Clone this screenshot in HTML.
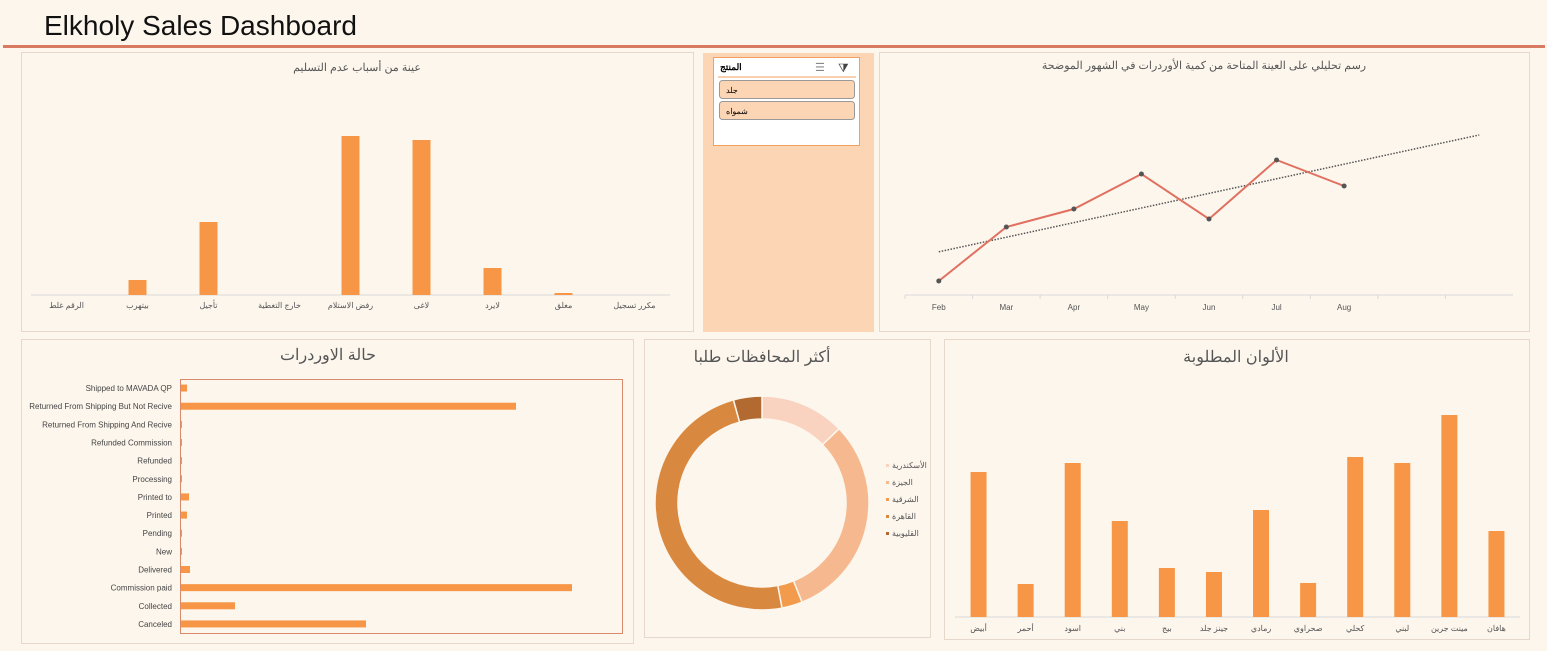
<!DOCTYPE html>
<html><head><meta charset="utf-8">
<style>
html,body{margin:0;padding:0;background:#fdf6ed;width:1547px;height:651px;overflow:hidden}
svg{display:block}
text{font-family:"Liberation Sans","Noto Sans CJK SC",sans-serif}
</style></head>
<body>
<svg id="s" width="1547" height="651" xmlns="http://www.w3.org/2000/svg">
<rect x="0" y="0" width="1547" height="651" fill="#fdf6ed"/>
<text x="44" y="35" font-size="28" fill="#111" textLength="313" lengthAdjust="spacingAndGlyphs">Elkholy Sales Dashboard</text>
<rect x="3" y="45" width="1542" height="3" fill="#d97a63"/>

<rect x="21.5" y="52.5" width="672" height="279" fill="#fdf6ed" stroke="#e8d8cc"/>
<text x="357" y="71" font-size="11" fill="#555" text-anchor="middle">عينة من أسباب عدم التسليم</text>
<g id="reasons"></g>

<rect x="703" y="53" width="171" height="279" fill="#fcd5b4"/>
<rect x="713.5" y="57.5" width="146" height="88" fill="#fff" stroke="#f0a060"/>
<text x="720" y="70" font-size="9" font-weight="bold" fill="#000">المنتج</text>
<line x1="718" y1="77" x2="856" y2="77" stroke="#f0a060" stroke-width="1"/>
<text x="815" y="71" font-size="11" fill="#888">☰</text>
<text x="838" y="72" font-size="12" fill="#444">⧩</text>
<rect x="719.5" y="80.5" width="135" height="18" rx="3" fill="#fcd5b4" stroke="#999"/>
<text x="726" y="93" font-size="8" fill="#000">جلد</text>
<rect x="719.5" y="101.5" width="135" height="18" rx="3" fill="#fcd5b4" stroke="#999"/>
<text x="726" y="114" font-size="8" fill="#000">شمواه</text>

<rect x="879.5" y="52.5" width="650" height="279" fill="#fdf6ed" stroke="#e8d8cc"/>
<text x="1204" y="69" font-size="11" fill="#555" text-anchor="middle">رسم تحليلي على العينة المتاحة من كمية الأوردرات في الشهور الموضحة</text>
<g id="trend"></g>

<rect x="21.5" y="339.5" width="612" height="304" fill="#fdf6ed" stroke="#e8d8cc"/>
<text x="328" y="360" font-size="16" fill="#555" text-anchor="middle">حالة الاوردرات</text>
<rect x="180.5" y="379.5" width="442" height="254" fill="none" stroke="#d98a6a"/>
<g id="status"></g>

<rect x="644.5" y="339.5" width="286" height="298" fill="#fdf6ed" stroke="#e8d8cc"/>
<text x="762" y="362" font-size="16" fill="#555" text-anchor="middle">أكثر المحافظات طلبا</text>
<g id="donut"></g>

<rect x="944.5" y="339.5" width="585" height="300" fill="#fdf6ed" stroke="#e8d8cc"/>
<text x="1236" y="362" font-size="16" fill="#555" text-anchor="middle">الألوان المطلوبة</text>
<g id="colors"></g>
</svg>
<script>
const reasonCats=["الرقم غلط","بيتهرب","تأجيل","خارج التغطية","رفض الاستلام","لاغى","لايرد","مغلق","مكرر تسجيل"];
const reasonVals=[0,15,73,0,159,155,27,2,0];
const months=["Feb","Mar","Apr","May","Jun","Jul","Aug","",""];
const monthVals=[14,68,86,121,76,135,109];
const statusCats=["Shipped to MAVADA QP","Returned From Shipping But Not Recive","Returned From Shipping And Recive","Refunded Commission","Refunded","Processing","Printed to","Printed","Pending","New","Delivered","Commission paid","Collected","Canceled"];
const statusVals=[6,335,1,1,1,1,8,6,1,1,9,391,54,185];
const govCats=["الأسكندرية","الجيزة","الشرقية","القاهرة","القليوبية"];
const govVals=[12.8,31.1,3.1,48.7,4.3];
const govColors=["#f9d3c0","#f6b98f","#f29b4d","#d98840","#b36a30"];
const colorCats=["أبيض","أحمر","اسود","بني","بيج","جينز جلد","رمادي","صحراوي","كحلي","لبني","مينت جرين","هافان"];
const colorVals=[145,33,154,96,49,45,107,34,160,154,202,86];

const NS="http://www.w3.org/2000/svg";
function mk(parent,tag,attrs,txt){const e=document.createElementNS(NS,tag);for(const k in attrs)e.setAttribute(k,attrs[k]);if(txt!==undefined)e.textContent=txt;parent.appendChild(e);return e;}
const BAR="#f79646";

(function(){
 const g=document.getElementById('reasons');const x0=31,x1=670,base=295,n=reasonCats.length,w=(x1-x0)/n;
 let ax=mk(g,'line',{x1:x0,y1:base,x2:x1,y2:base,stroke:"#d9d9d9"});
 
 reasonCats.forEach((c,i)=>{
  const cx=x0+w*(i+0.5);
  let r=mk(g,'rect',{x:cx-9,y:base-reasonVals[i],width:18,height:reasonVals[i],fill:BAR});
  
  let t=mk(g,'text',{x:cx,y:308,'font-size':8,fill:"#555",'text-anchor':"middle"},c);
  
 });
})();

(function(){
 const g=document.getElementById('trend');const x0=905,x1=1513,base=295,n=months.length,w=(x1-x0)/n;
 const X=i=>x0+w*(i+0.5),Y=v=>base-v;
 let ax=mk(g,'line',{x1:x0,y1:base,x2:x1,y2:base,stroke:"#d9d9d9"});
 
 months.forEach((m,i)=>{
  let tk=mk(g,'line',{x1:x0+w*i,y1:base,x2:x0+w*i,y2:base+4,stroke:"#d9d9d9"});
  
  let t=mk(g,'text',{x:X(i),y:310,'font-size':8,fill:"#555",'text-anchor':"middle"},m);
  
 });
 const k=monthVals.length;let mx=(k-1)/2,my=monthVals.reduce((a,b)=>a+b,0)/k,num=0,den=0;
 monthVals.forEach((v,i)=>{num+=(i-mx)*(v-my);den+=(i-mx)*(i-mx);});
 const sl=num/den,ic=my-sl*mx;
 let tr=mk(g,'line',{x1:X(0),y1:Y(ic),x2:X(8),y2:Y(ic+sl*8),stroke:"#555",'stroke-width':1.5,'stroke-dasharray':"1.5 1.5"});
 
 let pl=mk(g,'polyline',{points:monthVals.map((v,i)=>X(i)+","+Y(v)).join(" "),fill:"none",stroke:"#e07060",'stroke-width':2});
 
 monthVals.forEach((v,i)=>{
  let c=mk(g,'circle',{cx:X(i),cy:Y(v),r:2.5,fill:"#555"});
  
 });
})();

(function(){
 const g=document.getElementById('status');const x0=181,top=379,h=254,n=statusCats.length,step=h/n;
 statusCats.forEach((c,i)=>{
  const cy=top+step*(i+0.5);
  let r=mk(g,'rect',{x:x0,y:cy-3.5,width:statusVals[i],height:7,fill:BAR});
  
  let t=mk(g,'text',{x:172,y:cy+3,'font-size':8,fill:"#444",'text-anchor':"end"},c);
  
 });
})();

(function(){
 const g=document.getElementById('donut');const cx=762,cy=503,R=107,r=84;
 const tot=govVals.reduce((a,b)=>a+b,0);let a0=0;
 const P=(rad,a)=>[cx+rad*Math.sin(a),cy-rad*Math.cos(a)];
 govVals.forEach((v,i)=>{
  const a1=a0+v/tot*2*Math.PI,lg=(a1-a0)>Math.PI?1:0;
  const p1=P(R,a0),p2=P(R,a1),p3=P(r,a1),p4=P(r,a0);
  let p=mk(g,'path',{d:`M${p1}A${R},${R} 0 ${lg} 1 ${p2}L${p3}A${r},${r} 0 ${lg} 0 ${p4}Z`,fill:govColors[i],stroke:"#fdf6ed",'stroke-width':1.5});
  
  a0=a1;
  const ly=468+i*17;
  let s=mk(g,'rect',{x:886,y:ly-4,width:3,height:3,fill:govColors[i]});
  
  let t=mk(g,'text',{x:892,y:ly,'font-size':8,fill:"#555"},govCats[i]);
  
 });
})();

(function(){
 const g=document.getElementById('colors');const x0=955,x1=1520,base=617,n=colorCats.length,w=(x1-x0)/n;
 let ax=mk(g,'line',{x1:x0,y1:base,x2:x1,y2:base,stroke:"#d9d9d9"});
 
 colorCats.forEach((c,i)=>{
  const cx=x0+w*(i+0.5);
  let r=mk(g,'rect',{x:cx-8,y:base-colorVals[i],width:16,height:colorVals[i],fill:BAR});
  
  let t=mk(g,'text',{x:cx,y:631,'font-size':8,fill:"#555",'text-anchor':"middle"},c);
  
 });
})();
</script>
</body></html>
